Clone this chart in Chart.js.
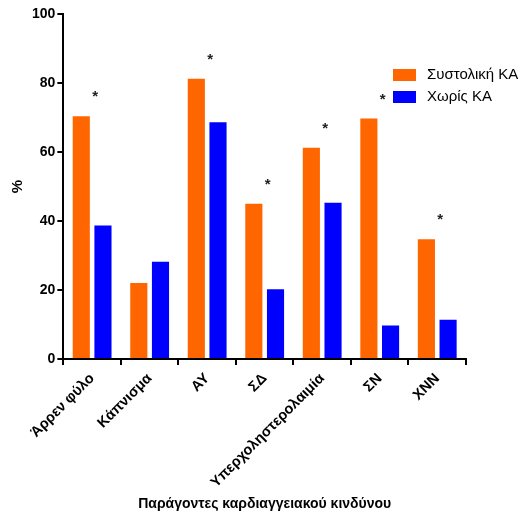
<!DOCTYPE html>
<html>
<head>
<meta charset="utf-8">
<script src="https://cdn.jsdelivr.net/npm/chart.js"></script>
<style>
  body { margin: 0; background: #fff; }
  #wrap { width: 525px; height: 522px; position: relative; }
</style>
</head>
<body>
<div id="wrap"><canvas id="chart"></canvas></div>
<script>
const categories = ['Άρρεν φύλο', 'Κάπνισμα', 'ΑΥ', 'ΣΔ', 'Υπερχοληστερολαιμία', 'ΣΝ', 'ΧΝΝ'];
const systolic = [70.4, 22.0, 81.2, 45.0, 61.2, 69.7, 34.7];
const noHF = [38.7, 28.2, 68.6, 20.2, 45.3, 9.7, 11.4];
const significant = [true, false, true, true, true, true, true];
const yTicks = [0, 20, 40, 60, 80, 100];

const FONT = '"Liberation Sans", Arial, sans-serif';

// asterisks over the orange bars + legend inside the plot
const extras = {
    id: 'extras',
    afterDatasetsDraw(chart) {
        const ctx = chart.ctx;
        const x = chart.scales.x, y = chart.scales.y;
        ctx.save();
        ctx.fillStyle = '#222';
        ctx.font = 'bold 15px ' + FONT;
        ctx.textAlign = 'center';
        ctx.textBaseline = 'middle';
        significant.forEach((s, i) => {
            if (!s) return;
            ctx.fillText('*', x.getPixelForValue(i) + 3, y.getPixelForValue(systolic[i]) - 19);
        });

        // legend
        ctx.font = '15px ' + FONT;
        ctx.textAlign = 'left';
        chart.data.datasets.forEach((ds, i) => {
            const top = 69 + i * 22;
            ctx.fillStyle = ds.backgroundColor;
            ctx.fillRect(393, top, 23, 12);
            ctx.fillStyle = '#000';
            ctx.fillText(ds.label, 427, top + 6);
        });
        ctx.restore();
    }
};

new Chart(document.getElementById('chart'), {
    type: 'bar',
    data: {
        labels: categories,
        datasets: [
            { label: 'Συστολική ΚΑ', data: systolic, backgroundColor: '#ff6600' },
            { label: 'Χωρίς ΚΑ', data: noHF, backgroundColor: '#0000ff' }
        ]
    },
    options: {
        responsive: true,
        maintainAspectRatio: false,
        animation: false,
        categoryPercentage: 0.754,
        barPercentage: 0.79,
        layout: { padding: { top: 14, right: 59, left: 9, bottom: 9 } },
        plugins: {
            legend: { display: false },
            tooltip: { enabled: false }
        },
        scales: {
            x: {
                border: { color: '#000', width: 2 },
                grid: { drawOnChartArea: false, color: '#000', lineWidth: 2, tickLength: 6, offset: true },
                ticks: {
                    color: '#000', minRotation: 45, maxRotation: 45, padding: 5,
                    font: { family: FONT, size: 14.5, weight: 'bold' }
                },
                title: {
                    display: true, text: 'Παράγοντες καρδιαγγειακού κινδύνου', color: '#000',
                    font: { family: FONT, size: 14, weight: 'bold' }, padding: { top: 0, bottom: 0 }
                }
            },
            y: {
                min: 0, max: 100,
                afterBuildTicks: axis => { axis.ticks = yTicks.map(v => ({ value: v })); },
                border: { color: '#000', width: 2 },
                grid: { drawOnChartArea: false, color: '#000', lineWidth: 2, tickLength: 6 },
                ticks: {
                    color: '#000', padding: 2,
                    font: { family: FONT, size: 14, weight: 'bold' }
                },
                title: {
                    display: true, text: '%', color: '#000',
                    font: { family: FONT, size: 15, weight: 'bold' }, padding: { top: 0, bottom: 3 }
                }
            }
        }
    },
    plugins: [extras]
});
</script>
</body>
</html>
